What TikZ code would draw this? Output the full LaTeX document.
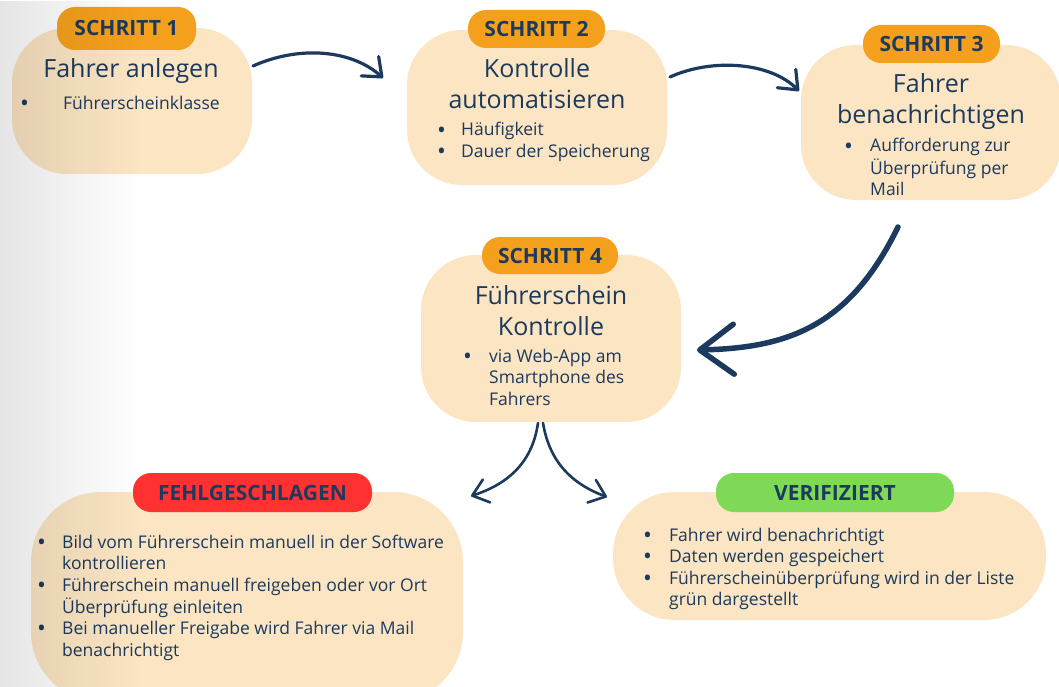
\documentclass[tikz,border=0pt]{standalone}
\usepackage{fontspec}
\setmainfont{Open Sans}
\usetikzlibrary{arrows.meta,fadings}
\definecolor{navy}{HTML}{1C3A5E}
\definecolor{peach}{HTML}{FBE5C3}
\definecolor{orng}{HTML}{F5A01C}
\definecolor{redb}{HTML}{FF3131}
\definecolor{greenb}{HTML}{7ED957}
\tikzset{
  box/.style={fill=peach, draw=none, rounded corners=55pt, inner sep=0pt},
  badge/.style={draw=none, rounded corners=18pt, inner sep=0pt, text=navy,
     font=\fontsize{21}{24}\selectfont\bfseries},
  ttl/.style={text=navy, anchor=base, inner sep=0pt, font=\fontsize{25}{31}\selectfont},
  lst/.style={text=navy, anchor=base west, inner sep=0pt, font=\fontsize{17.5}{21.5}\selectfont},
  conn/.style={draw=navy, line width=3.2pt, line cap=round,
     -{Straight Barb[length=16pt,width=26pt,round]}},
}
\newcommand{\bl}{\raisebox{-2pt}{\scalebox{1.35}{\textbullet}}}
\begin{document}
\begin{tikzpicture}[x=1pt,y=-1pt]
\useasboundingbox (0,0) rectangle (1059,687);
\fill[white] (0,0) rectangle (1059,687);

% boxes
\node[box, minimum width=240pt, minimum height=146pt] (b1) at (132,101) {};
\node[box, minimum width=260pt, minimum height=155pt] (b2) at (537,107.5) {};
\node[box, minimum width=260pt, minimum height=155pt] (b3) at (931,122.5) {};
\node[box, minimum width=260pt, minimum height=167pt] (b4) at (551,338.5) {};
\node[box, minimum width=432pt, minimum height=210pt, rounded corners=70pt] (bf) at (247,597) {};
\node[box, minimum width=433pt, minimum height=128pt, rounded corners=62pt] (bv) at (829.5,556) {};

% badges
\node[badge, fill=orng, minimum width=139pt, minimum height=43pt] (s1) at (126.5,28.5) {SCHRITT 1};
\node[badge, fill=orng, minimum width=137pt, minimum height=38pt] (s2) at (536.5,29) {SCHRITT 2};
\node[badge, fill=orng, minimum width=137pt, minimum height=38pt] (s3) at (931.5,44) {SCHRITT 3};
\node[badge, fill=orng, minimum width=136pt, minimum height=37pt] (s4) at (550,255.5) {SCHRITT 4};
\node[badge, fill=redb, minimum width=239pt, minimum height=39pt] (sf) at (252.5,492.5) {FEHLGESCHLAGEN};
\node[badge, fill=greenb, minimum width=238pt, minimum height=39pt] (sv) at (835,492.5) {VERIFIZIERT};

% titles (base anchor = baseline of last line)
\node[ttl] (t1) at (131,78) {Fahrer anlegen};
\node[ttl, align=center] (t2) at (537,109) {Kontrolle\\automatisieren};
\node[ttl, align=center] (t3) at (931,124) {Fahrer\\benachrichtigen};
\node[ttl, align=center] (t4) at (551,335) {Führerschein\\Kontrolle};

% lists
\node[lst] (l1) at (20,110) {\begin{tabular}[t]{@{}p{43pt}@{}l@{}}\bl & Führerscheinklasse\end{tabular}};
\node[lst] (l2) at (437,136) {\begin{tabular}[t]{@{}p{24pt}@{}l@{}}\bl & Häufigkeit\\ \bl & Dauer der Speicherung\end{tabular}};
\node[lst] (l3) at (844,152) {\begin{tabular}[t]{@{}p{26pt}@{}l@{}}\bl & Aufforderung zur\\ & Überprüfung per\\ & Mail\end{tabular}};
\node[lst] (l4) at (463,362) {\begin{tabular}[t]{@{}p{26pt}@{}l@{}}\bl & via Web-App am\\ & Smartphone des\\ & Fahrers\end{tabular}};
\node[lst] (lf) at (37,548) {\begin{tabular}[t]{@{}p{25pt}@{}l@{}}\bl & Bild vom Führerschein manuell in der Software\\ & kontrollieren\\ \bl & Führerschein manuell freigeben oder vor Ort\\ & Überprüfung einleiten\\ \bl & Bei manueller Freigabe wird Fahrer via Mail\\ & benachrichtigt\end{tabular}};
\node[lst] (lv) at (643,541) {\begin{tabular}[t]{@{}p{26pt}@{}l@{}}\bl & Fahrer wird benachrichtigt\\ \bl & Daten werden gespeichert\\ \bl & Führerscheinüberprüfung wird in der Liste\\ & grün dargestellt\end{tabular}};

% arrow end points
\coordinate (a1s) at (253,66);  \coordinate (a1e) at (383,78);
\coordinate (a2s) at (670,77);  \coordinate (a2e) at (799,91);
\coordinate (a3s) at (898,227); \coordinate (a3e) at (697,350);
\coordinate (a4s) at (538,423); \coordinate (a4e) at (471,496);
\coordinate (a5s) at (543,423); \coordinate (a5e) at (607,497);

\draw[conn] (a1s) .. controls (300,45) and (352,50) .. (a1e);
\draw[conn] (a2s) .. controls (712,58) and (770,62) .. (a2e);
\draw[conn, line width=5.5pt, -{Straight Barb[length=34pt,width=50pt,round]}] (a3s) .. controls (850,325) and (790,348) .. (a3e);
\draw[conn, line width=2.6pt, -{Straight Barb[length=15pt,width=24pt,round]}] (a4s) .. controls (532,465) and (505,485) .. (a4e);
\draw[conn, line width=2.6pt, -{Straight Barb[length=15pt,width=24pt,round]}] (a5s) .. controls (550,465) and (575,485) .. (a5e);

% left gray shading
\fill[black, path fading=east, fill opacity=0.1] (0,0) rectangle (140,687);
\end{tikzpicture}
\end{document}
